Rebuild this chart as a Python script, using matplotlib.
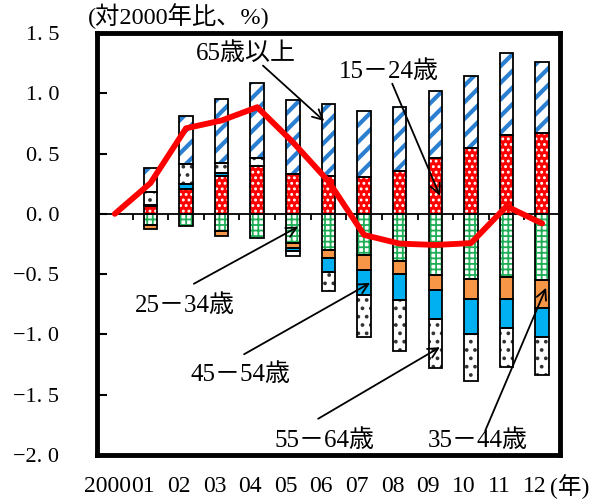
import numpy as np
import matplotlib
matplotlib.use("Agg")
import matplotlib.pyplot as plt
import matplotlib.transforms as mtransforms

plt.rcParams['font.family'] = ['Liberation Serif', 'Noto Sans CJK JP']

# Contribution by age group to employment change vs 2000 (%)
years = np.arange(13)
year_labels = ["2000", "01", "02", "03", "04", "05", "06", "07", "08", "09", "10", "11", "12"]

age_15_24 = [0, 0.065, 0.21, 0.31, 0.40, 0.33, 0.31, 0.305, 0.355, 0.463, 0.55, 0.653, 0.675]
age_25_34 = [0, -0.09, -0.10, -0.14, -0.20, -0.245, -0.30, -0.34, -0.395, -0.51, -0.54, -0.52, -0.55]
age_35_44 = [0, -0.035, 0, -0.04, 0, -0.035, -0.07, -0.125, -0.10, -0.125, -0.17, -0.19, -0.23]
age_45_54 = [0, 0.01, 0.035, 0.03, 0, -0.03, -0.11, -0.21, -0.22, -0.24, -0.29, -0.24, -0.24]
age_55_64 = [0, 0.11, 0.165, 0.08, 0.06, -0.04, -0.16, -0.35, -0.42, -0.40, -0.39, -0.32, -0.32]
age_65_up = [0, 0.195, 0.40, 0.535, 0.625, 0.615, 0.60, 0.545, 0.533, 0.554, 0.597, 0.68, 0.585]

series = [
    # values, face, hatch colour, hatch, hatch linewidth
    (age_15_24, "#ff0000", "white", "...", 1.3),
    (age_25_34, "white", "#1fae55", "+++", 1.3),
    (age_35_44, "#f79646", "#f79646", "", 1.0),
    (age_45_54, "#00b0f0", "#00b0f0", "", 1.0),
    (age_55_64, "white", "#333333", "..", 1.5),
    (age_65_up, "white", "#2a7fd0", "//", 3.0),
]

total = np.sum([np.array(s[0]) for s in series], axis=0)

fig = plt.figure(figsize=(6.1, 5.01), dpi=100)
ax = fig.add_axes([0.159, 0.092, 0.759, 0.842])

width = 0.38
pos_base = np.zeros(len(years))
neg_base = np.zeros(len(years))
for vals, face, hcol, hatch, hlw in series:
    v = np.array(vals, dtype=float)
    bottom = np.where(v >= 0, pos_base, neg_base)
    keep = v != 0
    with plt.rc_context({'hatch.linewidth': hlw}):
        bars = ax.bar(years[keep], v[keep], width, bottom=bottom[keep], color=face,
                      edgecolor=hcol, hatch=hatch, linewidth=0, zorder=2)
    for p in bars:
        if hasattr(p, "set_hatch_linewidth"):
            p.set_hatch_linewidth(hlw)
    ax.bar(years[keep], v[keep], width, bottom=bottom[keep], fill=False,
           edgecolor="black", linewidth=1.3, zorder=3)
    pos_base += np.where(v > 0, v, 0)
    neg_base += np.where(v < 0, v, 0)

# zero line with category separators
ax.axhline(0, color="black", lw=1.3, zorder=4)
ax.vlines(years[:-1] + 0.5, -0.055, 0, color="black", lw=1.3, zorder=4)

ax.plot(years, total, color="#ff0000", lw=4.2, zorder=5, solid_capstyle="round")

ax.set_xlim(-0.5, 12.5)
ax.set_ylim(-2.0, 1.5)
yt = np.arange(-2.0, 1.51, 0.5)
ax.set_yticks(yt)
ax.set_yticklabels([("%.1f" % t).replace("-", "−").replace(".", ". ") for t in yt])
# year labels sit slightly left of their bars
ax.set_xticks(years - 0.2)
ax.set_xticklabels(year_labels)

ax.tick_params(axis="y", direction="in", length=7, width=1.5, pad=27, labelsize=16)
ax.tick_params(axis="x", length=0, pad=15, labelsize=17)
for sp in ax.spines.values():
    sp.set_linewidth(3.5)

ax.text(-0.75, 1.53, "(対2000年比、%)", fontsize=17.5, ha="left", va="bottom")
ax.text(12.22, -2.0, "(年)", fontsize=17, ha="left", va="center",
        transform=ax.transData + mtransforms.ScaledTranslation(0, -0.32, fig.dpi_scale_trans))

# labels and leader arrows for each age group
notes = [
    ("65歳以上", (3.69, 1.33), (4.16, 1.23), (5.88, 0.77)),
    ("15－24歳", (7.70, 1.18), (7.79, 1.08), (9.13, 0.15)),
    ("25－34歳", (1.97, -0.765), (2.22, -0.58), (5.15, -0.106)),
    ("45－54歳", (3.52, -1.33), (3.63, -1.165), (7.17, -0.573)),
    ("55－64歳", (5.90, -1.88), (5.71, -1.70), (9.13, -1.106)),
    ("35－44歳", (10.2, -1.88), (10.40, -1.80), (12.11, -0.613)),
]
for label, tpos, start, tip in notes:
    ax.text(tpos[0], tpos[1], label, fontsize=18, ha="center", va="center", zorder=6)
    ax.annotate("", xy=tip, xytext=start,
                arrowprops=dict(arrowstyle="->", lw=1.3, color="black",
                                shrinkA=0, shrinkB=0, mutation_scale=18), zorder=6)

fig.savefig("out.png", dpi=100)
